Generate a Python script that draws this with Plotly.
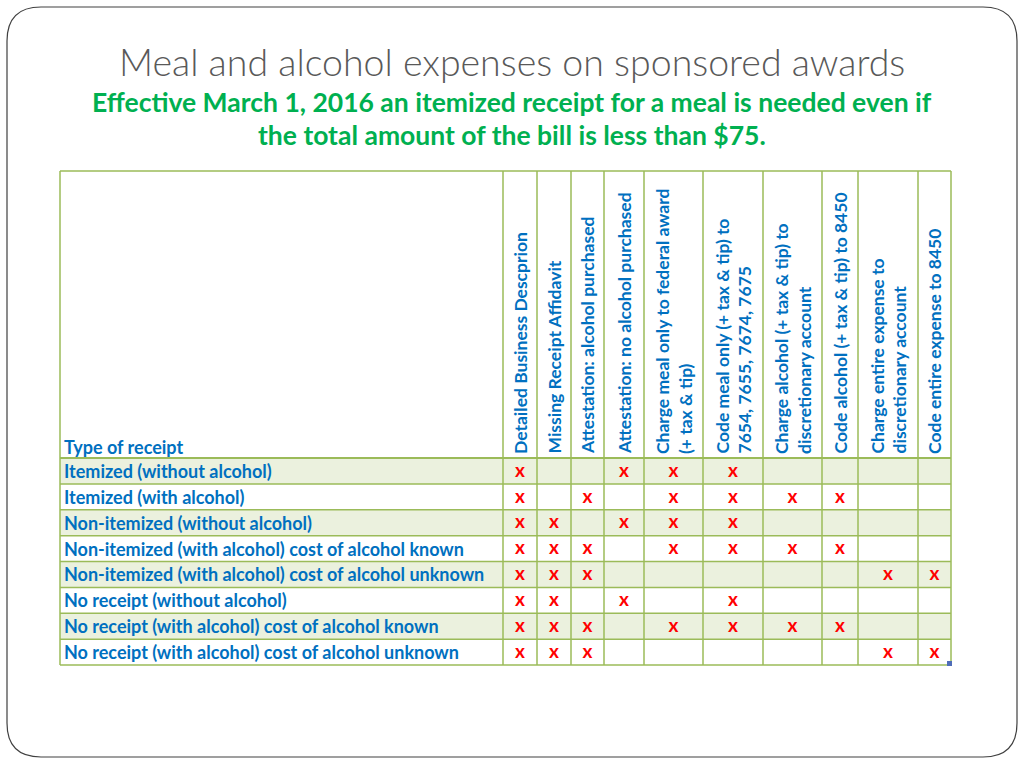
import plotly.graph_objects as go

# ---------------- data ----------------
title_text = "Meal and alcohol expenses on sponsored awards"
subtitle_lines = [
    "Effective March 1, 2016 an itemized receipt for a meal is needed even if",
    "the total amount of the bill is less than $75.",
]
row_header = "Type of receipt"
columns = [
    "Detailed Business Descprion",
    "Missing Receipt Affidavit",
    "Attestation: alcohol purchased",
    "Attestation: no alcohol purchased",
    "Charge meal only to federal award<br>(+ tax & tip)",
    "Code meal only (+ tax & tip) to<br>7654, 7655, 7674, 7675",
    "Charge alcohol (+ tax & tip) to<br>discretionary account",
    "Code alcohol (+ tax & tip) to 8450",
    "Charge entire expense to<br>discretionary account",
    "Code entire expense to 8450",
]
rows = [
    "Itemized (without alcohol)",
    "Itemized (with alcohol)",
    "Non-itemized (without alcohol)",
    "Non-itemized (with alcohol) cost of alcohol known",
    "Non-itemized (with alcohol) cost of alcohol unknown",
    "No receipt (without alcohol)",
    "No receipt (with alcohol) cost of alcohol known",
    "No receipt (with alcohol) cost of alcohol unknown",
]
# 1 = "x" in the cell
marks = [
    [1, 0, 0, 1, 1, 1, 0, 0, 0, 0],
    [1, 0, 1, 0, 1, 1, 1, 1, 0, 0],
    [1, 1, 0, 1, 1, 1, 0, 0, 0, 0],
    [1, 1, 1, 0, 1, 1, 1, 1, 0, 0],
    [1, 1, 1, 0, 0, 0, 0, 0, 1, 1],
    [1, 1, 0, 1, 0, 1, 0, 0, 0, 0],
    [1, 1, 1, 0, 1, 1, 1, 1, 0, 0],
    [1, 1, 1, 0, 0, 0, 0, 0, 1, 1],
]

# ---------------- layout geometry (page pixels) ----------------
col_edges = [60, 503, 537, 571, 604, 644, 703, 763, 822, 858, 918, 951]
table_top = 171
header_bottom = 458
row_h = (665 - 458) / len(rows)
row_edges = [header_bottom + i * row_h for i in range(len(rows) + 1)]

GRID = "#9BBB59"
SHADE = "#EBF1DE"
BLUE = "#0070C0"
RED = "#FF0000"
GREEN = "#00B050"
GRAY = "#595959"
FONT = "Lato"

fig = go.Figure()
shapes = []

# rounded slide border
x0, y0, x1, y1, r = 7, 7, 1017, 757, 34
path = (f"M {x0+r},{y0} L {x1-r},{y0} Q {x1},{y0} {x1},{y0+r} "
        f"L {x1},{y1-r} Q {x1},{y1} {x1-r},{y1} L {x0+r},{y1} "
        f"Q {x0},{y1} {x0},{y1-r} L {x0},{y0+r} Q {x0},{y0} {x0+r},{y0} Z")
shapes.append(dict(type="path", path=path, line=dict(color="#404040", width=1.2),
                   fillcolor="rgba(0,0,0,0)", layer="below"))

# row shading
for i in range(len(rows)):
    if i % 2 == 0:
        shapes.append(dict(type="rect", x0=col_edges[0], x1=col_edges[-1],
                           y0=row_edges[i], y1=row_edges[i + 1],
                           fillcolor=SHADE, line=dict(width=0), layer="below"))

# horizontal grid lines
for y in [table_top] + row_edges:
    shapes.append(dict(type="line", x0=col_edges[0], x1=col_edges[-1], y0=y, y1=y,
                       line=dict(color=GRID, width=2 if y == header_bottom else 1.5)))
# vertical grid lines
for x in col_edges:
    shapes.append(dict(type="line", x0=x, x1=x, y0=table_top, y1=row_edges[-1],
                       line=dict(color=GRID, width=1.5)))
# small selection handle at table corner
shapes.append(dict(type="rect", x0=col_edges[-1] - 4, x1=col_edges[-1] + 1,
                   y0=row_edges[-1] - 4, y1=row_edges[-1] + 1,
                   fillcolor="#4F6DB8", line=dict(width=0)))

annotations = []
# title
annotations.append(dict(x=512, y=61, text=title_text, showarrow=False,
                        xanchor="center", yanchor="middle",
                        font=dict(family=FONT, size=37.5, color=GRAY, weight=300)))
for k, line in enumerate(subtitle_lines):
    annotations.append(dict(x=512, y=102 + k * 33, text=line, showarrow=False,
                            xanchor="center", yanchor="middle",
                            font=dict(family=FONT, size=26.5, color=GREEN, weight="bold")))

# column headers (rotated)
for c, name in enumerate(columns):
    cx = (col_edges[c + 1] + col_edges[c + 2]) / 2
    annotations.append(dict(x=cx, y=456, text=name, showarrow=False, textangle=-90,
                            xanchor="center", yanchor="bottom", align="left",
                            font=dict(family=FONT, size=17.5, color=BLUE, weight="bold")))

# row header and row labels
annotations.append(dict(x=62, y=447, text=row_header, showarrow=False,
                        xanchor="left", yanchor="middle",
                        font=dict(family=FONT, size=18, color=BLUE, weight="bold")))
for i, name in enumerate(rows):
    cy = (row_edges[i] + row_edges[i + 1]) / 2
    annotations.append(dict(x=62, y=cy, text=name, showarrow=False,
                            xanchor="left", yanchor="middle",
                            font=dict(family=FONT, size=18, color=BLUE, weight="bold")))

# x marks
mx, my = [], []
for i, row in enumerate(marks):
    for c, v in enumerate(row):
        if v:
            mx.append((col_edges[c + 1] + col_edges[c + 2]) / 2)
            my.append((row_edges[i] + row_edges[i + 1]) / 2 + 1)
fig.add_trace(go.Scatter(x=mx, y=my, mode="text", text=["x"] * len(mx),
                         textposition="middle center", hoverinfo="skip",
                         textfont=dict(family=FONT, size=19, color=RED, weight="bold")))

fig.update_layout(
    width=1024, height=768, margin=dict(l=0, r=0, t=0, b=0),
    paper_bgcolor="white", plot_bgcolor="white", showlegend=False,
    xaxis=dict(range=[0, 1024], visible=False, fixedrange=True),
    yaxis=dict(range=[768, 0], visible=False, fixedrange=True),
    shapes=shapes, annotations=annotations,
)
fig.write_html("out.html", config={"displayModeBar": False},
               post_script="document.body.style.margin='0';document.body.style.overflow='hidden';")
